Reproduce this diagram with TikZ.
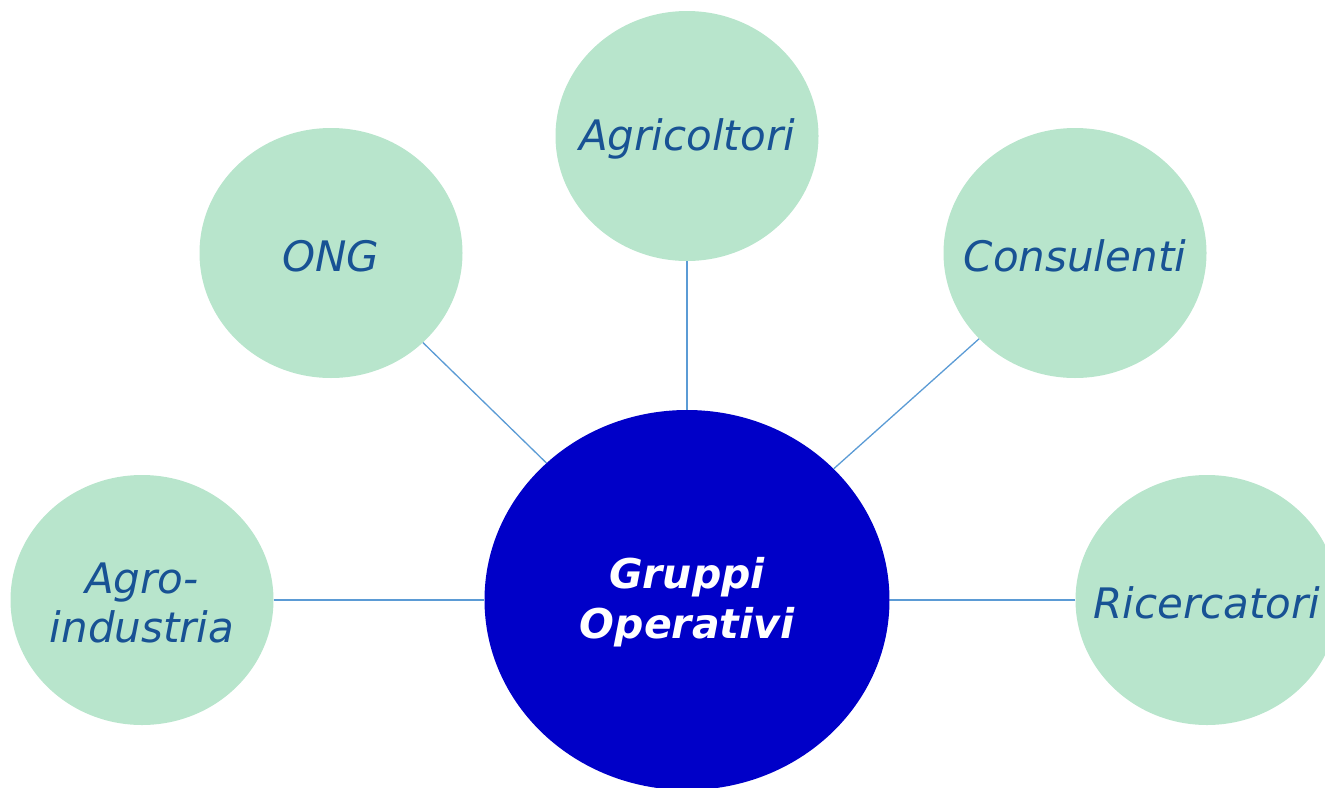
\documentclass[tikz,border=0pt]{standalone}
\usepackage{fontspec}
\setmainfont{DejaVu Sans}
\usetikzlibrary{shapes.geometric}
\definecolor{bubble}{RGB}{184,229,204}
\definecolor{txtblue}{RGB}{24,82,148}
\definecolor{centerblue}{RGB}{0,0,200}
\definecolor{linkblue}{RGB}{91,155,213}
\tikzset{
  member/.style={ellipse, fill=bubble, inner sep=0pt, minimum width=263pt, minimum height=250pt},
  membertext/.style={font=\fontsize{42}{49}\selectfont\itshape, text=txtblue, align=center, inner sep=0pt, yshift=-3pt},
  hub/.style={ellipse, fill=centerblue, inner sep=0pt, minimum width=405pt, minimum height=380pt},
  hubtext/.style={font=\fontsize{41}{50}\selectfont\bfseries\itshape, text=white, align=center, inner sep=0pt, yshift=-2pt},
  link/.style={draw=linkblue, line width=1.3pt}
}
\begin{document}
\begin{tikzpicture}[x=1pt,y=-1pt]
\useasboundingbox (0,0) rectangle (1325,787);
\node[hub] (go) at (687,600) {};
\node[member] (agr) at (687,136) {};
\node[member] (ong) at (331,253) {};
\node[member] (con) at (1075,253) {};
\node[member] (ind) at (142,600) {};
\node[member] (ric) at (1207,600) {};
\node[hubtext] (got) at (go.center) {Gruppi\\Operativi};
\node[membertext] (agrt) at (agr.center) {Agricoltori};
\node[membertext] (ongt) at (ong.center) {ONG};
\node[membertext] (cont) at (con.center) {Consulenti};
\node[membertext] (indt) at (ind.center) {Agro-\\industria};
\node[membertext] (rict) at (ric.center) {Ricercatori};
\draw[link] (agr) -- (go);
\draw[link] (ong) -- (go);
\draw[link] (con) -- (go);
\draw[link] (ind) -- (go);
\draw[link] (ric) -- (go);
\end{tikzpicture}
\end{document}
